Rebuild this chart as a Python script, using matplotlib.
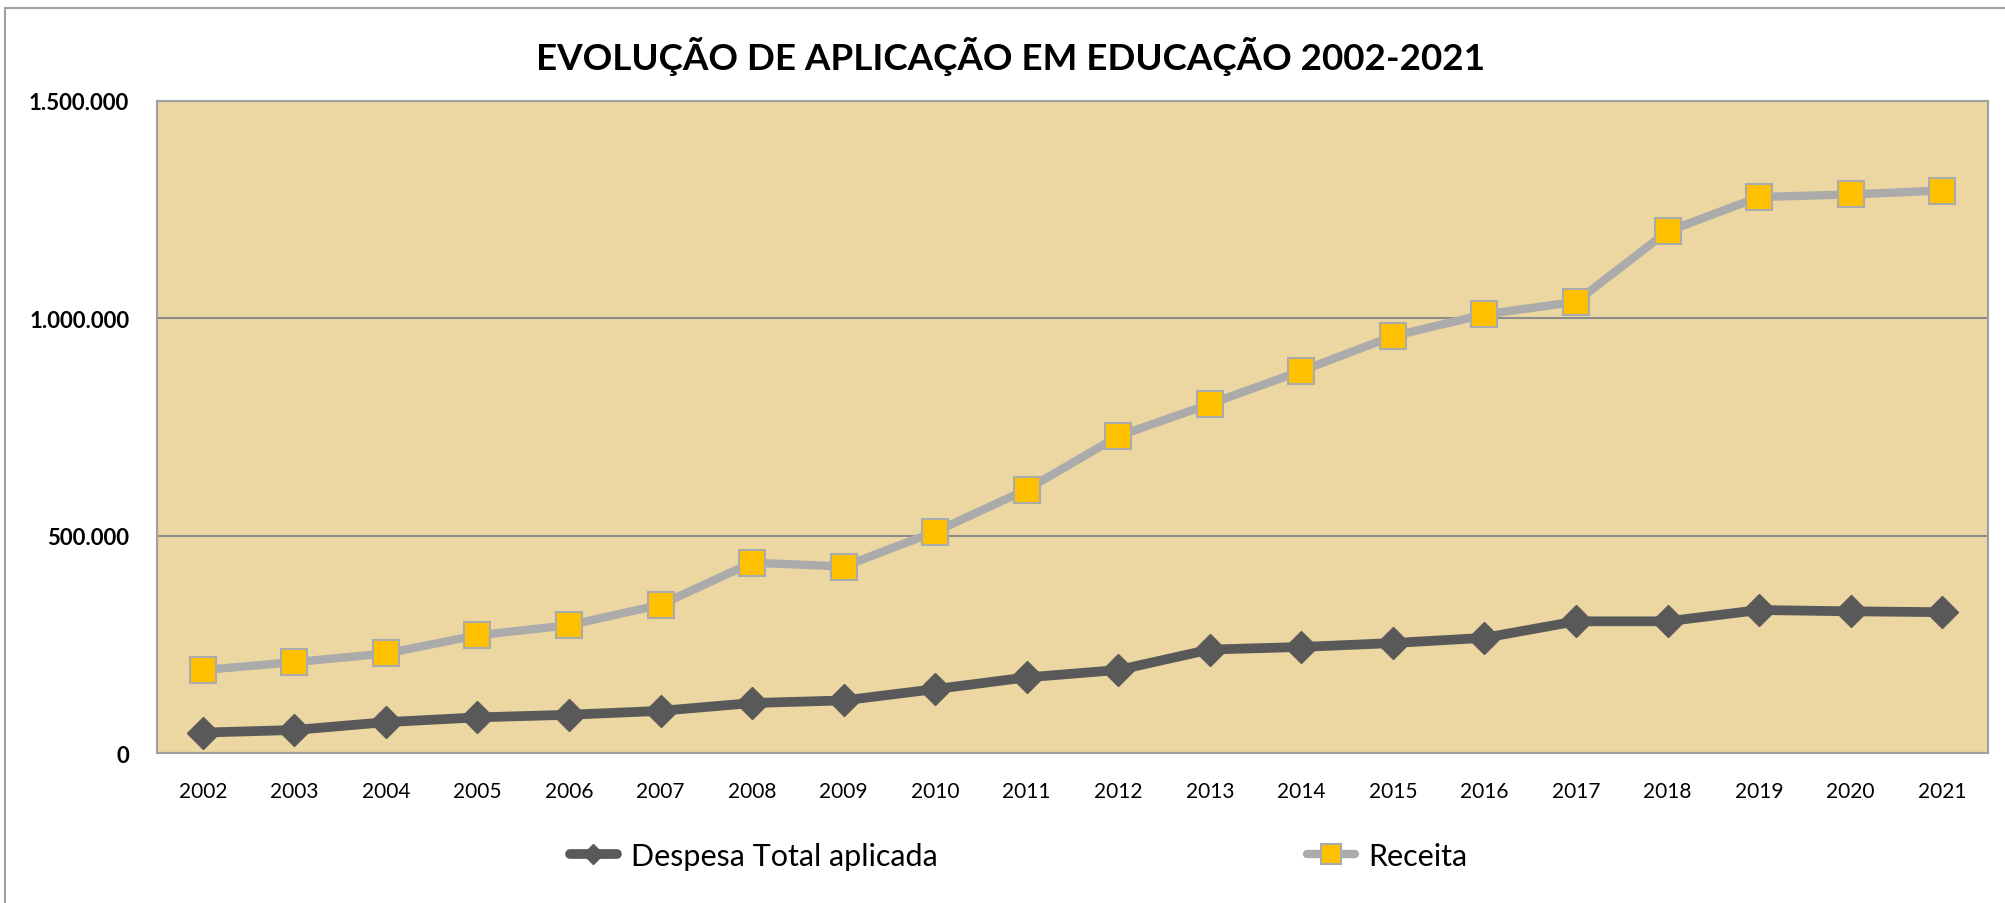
import numpy as np
import matplotlib.pyplot as plt
from matplotlib.patches import Rectangle
from matplotlib.lines import Line2D

plt.rcParams['font.family'] = ['Lato', 'DejaVu Sans']

anos = [str(a) for a in range(2002, 2022)]
despesa = [47000, 53000, 71000, 82000, 88000, 97000, 115000, 121000, 147000, 174000,
           191000, 238000, 244000, 253000, 265000, 303000, 303000, 329000, 326000, 324000]
receita = [191000, 209000, 229000, 271000, 294000, 341000, 438000, 429000, 509000, 606000,
           729000, 803000, 879000, 959000, 1009000, 1038000, 1200000, 1279000, 1285000, 1294000]
yticks = [0, 500000, 1000000, 1500000]
ylabels = ['0', '500.000', '1.000.000', '1.500.000']

fig = plt.figure(figsize=(20.05, 9.04), dpi=100)
fig.patches.append(Rectangle((0.0025, -0.05), 1.5, 1.04, transform=fig.transFigure,
                             fill=False, edgecolor='#A0A0A0', lw=1.5))
ax = fig.add_axes([0.0783, 0.1659, 0.9132, 0.7213])
ax.set_facecolor('#ECD7A3')

x = np.arange(len(anos))
ax.plot(x, despesa, color='#595959', lw=7, marker='D', markersize=16.5,
        markerfacecolor='#595959', markeredgecolor='#595959', zorder=3)
ax.plot(x, receita, color='#ABABAB', lw=6, marker='s', markersize=19,
        markerfacecolor='#FFC000', markeredgecolor='#ABABAB', markeredgewidth=1.5,
        zorder=3)

ax.set_xlim(-0.5, len(anos) - 0.5)
ax.set_ylim(0, 1500000)
ax.set_xticks(x)
ax.set_xticklabels(anos, fontsize=15)
ax.set_yticks(yticks)
ax.set_yticklabels(ylabels, fontsize=16, fontweight='bold')
ax.tick_params(axis='both', length=0)
ax.tick_params(axis='y', pad=20)
ax.tick_params(axis='x', pad=20)
ax.grid(axis='y', color='#8C8C8C', lw=1.5)
for s in ax.spines.values():
    s.set_color('#A0A0A0')
    s.set_linewidth(1.5)

fig.text(0.504, 0.937, 'EVOLUÇÃO DE APLICAÇÃO EM EDUCAÇÃO 2002-2021',
         ha='center', va='center', fontsize=26.5, fontweight='bold')

handles = [
    Line2D([], [], color='#595959', lw=7, solid_capstyle='round', marker='D',
           markersize=10, markerfacecolor='#595959', markeredgecolor='#595959'),
    Line2D([], [], color='#ABABAB', lw=6, solid_capstyle='round', marker='s',
           markersize=14, markerfacecolor='#FFC000', markeredgecolor='#ABABAB',
           markeredgewidth=1.5),
]
fig.legend(handles, ['Despesa Total aplicada', 'Receita'], loc='center',
           bbox_to_anchor=(0.508, 0.052), ncol=2, frameon=False,
           fontsize=22, columnspacing=12.1, handlelength=1.55, handletextpad=0.45)

fig.savefig('out.png', dpi=100)
